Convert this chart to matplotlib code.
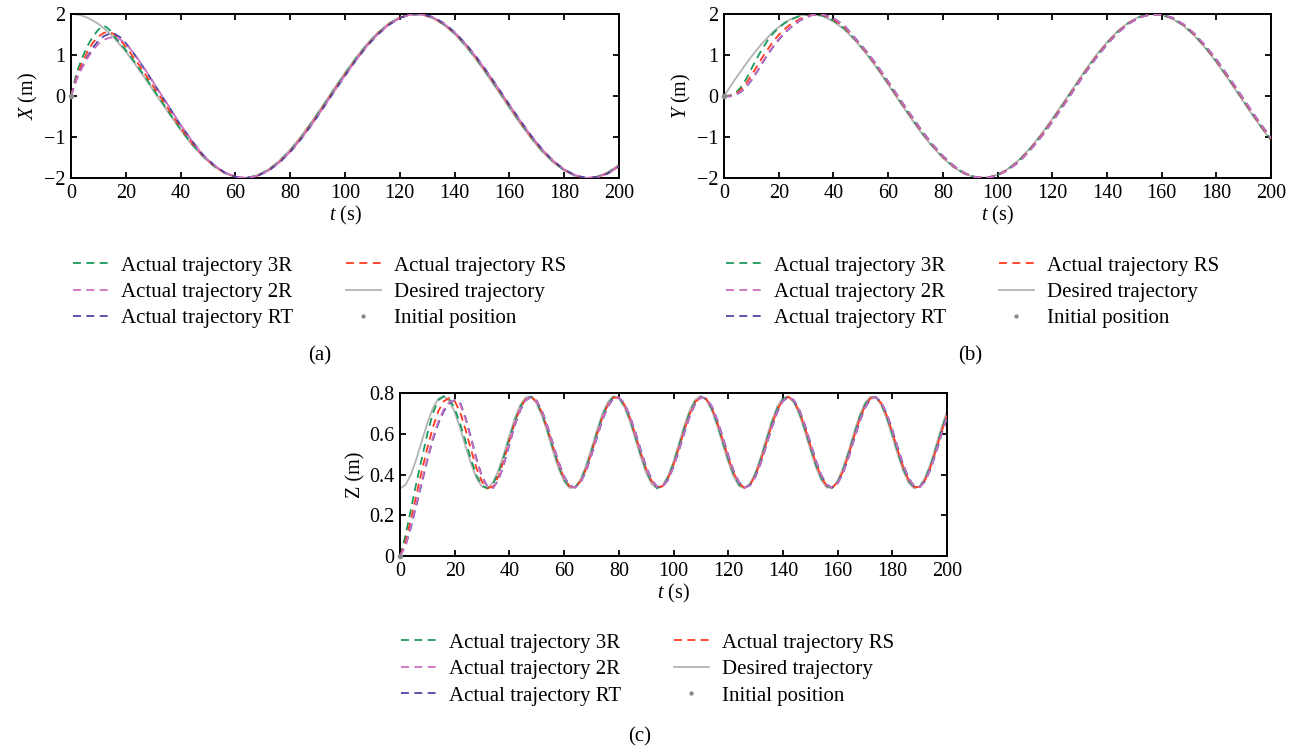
import matplotlib
matplotlib.use('Agg')
import matplotlib.pyplot as plt

plt.rcParams['font.family'] = 'Liberation Serif'
plt.rcParams['mathtext.fontset'] = 'custom'
plt.rcParams['mathtext.rm'] = 'Liberation Serif'
plt.rcParams['mathtext.it'] = 'Liberation Serif:italic'

# time grids (s)
t_xy = list(range(0, 25, 2)) + list(range(28, 201, 4))
t_z = list(range(0, 201, 2))

# X (m)
x_des = [2.00, 1.99, 1.96, 1.91, 1.84, 1.76, 1.65, 1.53, 1.39, 1.24, 1.08, 0.91, 0.72, 0.34, -0.06, -0.45, -0.83, -1.18,
         -1.47, -1.71, -1.88, -1.98, -2.00, -1.93, -1.79, -1.58, -1.31, -0.98, -0.61, -0.22, 0.18, 0.57, 0.94, 1.27,
         1.55, 1.77, 1.92, 1.99, 1.99, 1.90, 1.74, 1.51, 1.22, 0.88, 0.50, 0.11, -0.29, -0.68, -1.04, -1.36, -1.62,
         -1.82, -1.95, -2.00, -1.97, -1.86, -1.68]
x_3r = [0.00, 0.55, 0.92, 1.22, 1.45, 1.62, 1.72, 1.62, 1.44, 1.28, 1.12, 0.94, 0.76, 0.37, -0.03, -0.42, -0.81, -1.16,
        -1.45, -1.70, -1.87, -1.98, -2.00, -1.94, -1.81, -1.60, -1.33, -1.01, -0.64, -0.25, 0.15, 0.54, 0.91, 1.25,
        1.53, 1.76, 1.91, 1.99, 1.99, 1.91, 1.75, 1.53, 1.24, 0.90, 0.53, 0.14, -0.26, -0.65, -1.01, -1.34, -1.60,
        -1.81, -1.94, -2.00, -1.97, -1.87, -1.69]
x_rs = [0.00, 0.45, 0.80, 1.08, 1.30, 1.45, 1.54, 1.56, 1.50, 1.37, 1.20, 1.02, 0.84, 0.44, 0.04, -0.36, -0.77, -1.13,
        -1.44, -1.69, -1.87, -1.97, -2.00, -1.95, -1.82, -1.61, -1.35, -1.02, -0.66, -0.27, 0.13, 0.52, 0.89, 1.23,
        1.52, 1.75, 1.91, 1.99, 1.99, 1.92, 1.76, 1.54, 1.26, 0.92, 0.55, 0.16, -0.24, -0.63, -1.00, -1.32, -1.59,
        -1.80, -1.94, -2.00, -1.98, -1.88, -1.71]
x_rt = [0.00, 0.40, 0.70, 0.96, 1.18, 1.35, 1.46, 1.52, 1.51, 1.43, 1.29, 1.12, 0.94, 0.54, 0.12, -0.29, -0.71, -1.08,
        -1.42, -1.67, -1.86, -1.97, -2.00, -1.95, -1.83, -1.63, -1.37, -1.05, -0.69, -0.30, 0.10, 0.49, 0.87, 1.21,
        1.50, 1.73, 1.90, 1.99, 2.00, 1.93, 1.78, 1.56, 1.28, 0.95, 0.58, 0.19, -0.21, -0.60, -0.97, -1.30, -1.58,
        -1.79, -1.93, -2.00, -1.98, -1.89, -1.72]
x_2r = [0.00, 0.40, 0.68, 0.92, 1.12, 1.27, 1.37, 1.42, 1.43, 1.38, 1.27, 1.12, 0.95, 0.55, 0.13, -0.28, -0.70, -1.08,
        -1.43, -1.68, -1.86, -1.97, -2.00, -1.95, -1.82, -1.62, -1.36, -1.04, -0.68, -0.29, 0.11, 0.50, 0.87, 1.22,
        1.51, 1.74, 1.90, 1.99, 1.99, 1.92, 1.77, 1.55, 1.27, 0.94, 0.57, 0.18, -0.22, -0.61, -0.98, -1.31, -1.58,
        -1.79, -1.93, -2.00, -1.98, -1.89, -1.72]

# Y (m)
y_des = [0.00, 0.20, 0.40, 0.59, 0.78, 0.96, 1.13, 1.29, 1.43, 1.57, 1.68, 1.78, 1.86, 1.97, 2.00, 1.95, 1.82, 1.62,
         1.35, 1.03, 0.67, 0.28, -0.12, -0.51, -0.89, -1.22, -1.51, -1.74, -1.90, -1.99, -1.99, -1.92, -1.77, -1.55,
         -1.26, -0.93, -0.56, -0.17, 0.23, 0.62, 0.99, 1.31, 1.59, 1.80, 1.94, 2.00, 1.98, 1.88, 1.71, 1.47, 1.17,
         0.82, 0.45, 0.05, -0.35, -0.73, -1.09]
y_3r = [0.00, 0.01, 0.06, 0.20, 0.40, 0.66, 0.92, 1.15, 1.36, 1.53, 1.66, 1.77, 1.85, 1.96, 2.00, 1.96, 1.84, 1.65,
        1.37, 1.06, 0.70, 0.31, -0.09, -0.48, -0.86, -1.20, -1.49, -1.73, -1.89, -1.98, -2.00, -1.93, -1.78, -1.56,
        -1.29, -0.96, -0.59, -0.20, 0.20, 0.59, 0.96, 1.29, 1.57, 1.78, 1.93, 2.00, 1.98, 1.89, 1.73, 1.49, 1.19,
        0.85, 0.47, 0.08, -0.32, -0.71, -1.06]
y_rs = [0.00, 0.00, 0.04, 0.14, 0.30, 0.50, 0.72, 0.94, 1.14, 1.33, 1.49, 1.62, 1.73, 1.89, 1.98, 1.98, 1.87, 1.68,
        1.39, 1.07, 0.72, 0.33, -0.07, -0.46, -0.84, -1.18, -1.48, -1.72, -1.89, -1.98, -2.00, -1.93, -1.79, -1.58,
        -1.30, -0.97, -0.61, -0.22, 0.18, 0.58, 0.95, 1.28, 1.56, 1.78, 1.92, 1.99, 1.99, 1.90, 1.74, 1.50, 1.21,
        0.87, 0.49, 0.10, -0.30, -0.69, -1.05]
y_rt = [0.00, -0.01, 0.02, 0.09, 0.21, 0.38, 0.58, 0.80, 1.01, 1.20, 1.37, 1.52, 1.65, 1.85, 1.97, 1.99, 1.90, 1.72,
        1.41, 1.10, 0.75, 0.36, -0.04, -0.43, -0.81, -1.16, -1.46, -1.70, -1.88, -1.98, -2.00, -1.94, -1.80, -1.60,
        -1.32, -1.00, -0.64, -0.25, 0.15, 0.55, 0.92, 1.25, 1.54, 1.76, 1.92, 1.99, 1.99, 1.91, 1.75, 1.52, 1.23,
        0.90, 0.52, 0.13, -0.27, -0.66, -1.02]
y_2r = [0.00, -0.01, 0.02, 0.10, 0.23, 0.40, 0.60, 0.82, 1.03, 1.22, 1.39, 1.54, 1.66, 1.86, 1.97, 1.99, 1.90, 1.71,
        1.40, 1.09, 0.74, 0.35, -0.05, -0.44, -0.82, -1.17, -1.47, -1.71, -1.88, -1.98, -2.00, -1.94, -1.80, -1.59,
        -1.32, -0.99, -0.63, -0.24, 0.16, 0.56, 0.93, 1.26, 1.55, 1.77, 1.92, 1.99, 1.99, 1.90, 1.75, 1.52, 1.23,
        0.89, 0.51, 0.12, -0.28, -0.67, -1.03]

# Z (m)
z_des = [0.331, 0.349, 0.400, 0.476, 0.565, 0.652, 0.725, 0.772, 0.785, 0.762,
         0.706, 0.628, 0.538, 0.452, 0.382, 0.340, 0.333, 0.361, 0.420, 0.501,
         0.591, 0.676, 0.742, 0.779, 0.782, 0.748, 0.685, 0.602, 0.512, 0.429,
         0.366, 0.334, 0.337, 0.375, 0.442, 0.527, 0.617, 0.698, 0.756, 0.784,
         0.775, 0.733, 0.663, 0.576, 0.486, 0.408, 0.354, 0.331, 0.345, 0.392,
         0.465, 0.553, 0.642, 0.718, 0.768, 0.785, 0.766, 0.715, 0.638, 0.549,
         0.462, 0.389, 0.343, 0.332, 0.355, 0.411, 0.490, 0.580, 0.666, 0.735,
         0.776, 0.783, 0.754, 0.695, 0.613, 0.523, 0.438, 0.373, 0.336, 0.335,
         0.369, 0.432, 0.516, 0.606, 0.689, 0.751, 0.782, 0.778, 0.740, 0.672,
         0.587, 0.497, 0.417, 0.359, 0.332, 0.341, 0.384, 0.455, 0.542, 0.632,
         0.709]
z_3r = [0.000, 0.100, 0.230, 0.360, 0.480, 0.600, 0.700, 0.765, 0.783, 0.771,
        0.723, 0.649, 0.561, 0.472, 0.394, 0.346, 0.331, 0.353, 0.408, 0.488,
        0.577, 0.663, 0.732, 0.773, 0.782, 0.753, 0.694, 0.614, 0.526, 0.441,
        0.375, 0.339, 0.337, 0.369, 0.432, 0.514, 0.604, 0.686, 0.747, 0.780,
        0.776, 0.739, 0.674, 0.589, 0.500, 0.420, 0.362, 0.334, 0.343, 0.385,
        0.454, 0.540, 0.629, 0.707, 0.761, 0.782, 0.769, 0.723, 0.650, 0.562,
        0.475, 0.400, 0.350, 0.334, 0.352, 0.403, 0.478, 0.567, 0.653, 0.725,
        0.770, 0.782, 0.758, 0.704, 0.625, 0.537, 0.451, 0.383, 0.342, 0.335,
        0.364, 0.423, 0.503, 0.593, 0.677, 0.742, 0.777, 0.779, 0.746, 0.682,
        0.600, 0.511, 0.429, 0.368, 0.336, 0.340, 0.378, 0.444, 0.529, 0.619,
        0.697]
z_rs = [0.000, 0.070, 0.180, 0.300, 0.420, 0.530, 0.630, 0.710, 0.760, 0.775,
        0.760, 0.706, 0.619, 0.520, 0.429, 0.364, 0.333, 0.341, 0.390, 0.471,
        0.566, 0.655, 0.726, 0.770, 0.781, 0.757, 0.701, 0.623, 0.535, 0.450,
        0.382, 0.342, 0.336, 0.366, 0.425, 0.506, 0.595, 0.678, 0.742, 0.777,
        0.777, 0.744, 0.681, 0.598, 0.509, 0.428, 0.368, 0.337, 0.342, 0.380,
        0.447, 0.531, 0.620, 0.699, 0.756, 0.781, 0.771, 0.728, 0.657, 0.571,
        0.484, 0.407, 0.355, 0.335, 0.349, 0.397, 0.470, 0.558, 0.645, 0.718,
        0.766, 0.781, 0.761, 0.710, 0.634, 0.546, 0.459, 0.389, 0.345, 0.335,
        0.361, 0.416, 0.495, 0.584, 0.668, 0.736, 0.774, 0.779, 0.750, 0.689,
        0.608, 0.520, 0.437, 0.373, 0.339, 0.339, 0.373, 0.437, 0.520, 0.610,
        0.690]
z_rt = [0.000, 0.050, 0.140, 0.250, 0.360, 0.470, 0.570, 0.650, 0.710, 0.750,
        0.765, 0.753, 0.677, 0.579, 0.476, 0.391, 0.340, 0.334, 0.373, 0.450,
        0.546, 0.642, 0.716, 0.764, 0.781, 0.762, 0.710, 0.635, 0.548, 0.462,
        0.391, 0.347, 0.336, 0.360, 0.415, 0.493, 0.581, 0.666, 0.733, 0.773,
        0.779, 0.750, 0.691, 0.611, 0.522, 0.439, 0.376, 0.340, 0.339, 0.373,
        0.436, 0.518, 0.606, 0.688, 0.748, 0.778, 0.774, 0.735, 0.669, 0.585,
        0.497, 0.418, 0.361, 0.336, 0.346, 0.389, 0.458, 0.544, 0.632, 0.707,
        0.760, 0.780, 0.766, 0.719, 0.646, 0.559, 0.472, 0.399, 0.351, 0.335,
        0.355, 0.407, 0.482, 0.570, 0.656, 0.726, 0.770, 0.780, 0.755, 0.699,
        0.621, 0.533, 0.449, 0.382, 0.343, 0.337, 0.367, 0.427, 0.507, 0.596,
        0.678]
z_2r = [0.000, 0.050, 0.150, 0.260, 0.370, 0.480, 0.580, 0.660, 0.720, 0.755,
        0.765, 0.745, 0.670, 0.570, 0.468, 0.385, 0.338, 0.333, 0.375, 0.455,
        0.552, 0.646, 0.719, 0.766, 0.781, 0.760, 0.707, 0.631, 0.544, 0.458,
        0.388, 0.345, 0.336, 0.362, 0.419, 0.497, 0.586, 0.670, 0.736, 0.774,
        0.778, 0.748, 0.688, 0.606, 0.518, 0.435, 0.373, 0.339, 0.340, 0.376,
        0.439, 0.522, 0.611, 0.691, 0.751, 0.779, 0.773, 0.733, 0.665, 0.580,
        0.492, 0.415, 0.359, 0.336, 0.347, 0.391, 0.462, 0.549, 0.636, 0.711,
        0.762, 0.781, 0.764, 0.716, 0.642, 0.555, 0.468, 0.396, 0.349, 0.335,
        0.357, 0.410, 0.487, 0.575, 0.660, 0.729, 0.771, 0.779, 0.753, 0.696,
        0.617, 0.529, 0.445, 0.379, 0.341, 0.338, 0.369, 0.430, 0.512, 0.601,
        0.682]

# initial position (t, value) for each coordinate
init_t = [0]
init_x = [0.0]
init_y = [0.0]
init_z = [0.0]

labels = ['Actual trajectory 3R', 'Actual trajectory 2R', 'Actual trajectory RT',
          'Actual trajectory RS', 'Desired trajectory', 'Initial position']
c_3r = '#1b9a5c'
c_2r = '#cc6fc0'
c_rt = '#4f45a6'
c_rs = '#ff3b1e'
c_des = '#b3b3b3'
c_init = '#8a8a8a'

W, H = 1299, 748
fig = plt.figure(figsize=(W / 100, H / 100), dpi=100)


def panel(rect, t, des, a3r, a2r, art, ars, init, ylabel, ylim, yticks, yticklabels, leg_xy, cap, cap_xy):
    ax = fig.add_axes(rect)
    dash = (4.4, 3.0)
    h_des = ax.plot(t, des, color=c_des, lw=1.3, zorder=1)[0]
    h3 = ax.plot(t, a3r, color=c_3r, lw=1.3, dashes=dash, zorder=2)[0]
    hrs = ax.plot(t, ars, color=c_rs, lw=1.3, dashes=dash, zorder=3)[0]
    hrt = ax.plot(t, art, color=c_rt, lw=1.3, dashes=dash, zorder=4)[0]
    h2 = ax.plot(t, a2r, color=c_2r, lw=1.3, dashes=dash, zorder=5)[0]
    hi = ax.plot(init_t, init, ls='none', marker='o', ms=3, color=c_init, zorder=6, clip_on=False)[0]
    ax.set_xlim(0, 200)
    ax.set_ylim(*ylim)
    ax.set_xticks(range(0, 201, 20))
    ax.set_yticks(yticks)
    ax.set_yticklabels(yticklabels)
    ax.tick_params(direction='in', top=True, right=True, length=4, width=1.3,
                   labelsize=14.5, pad=4)
    for s in ax.spines.values():
        s.set_linewidth(1.4)
    ax.set_xlabel(r'$t$ (s)', fontsize=14.5, labelpad=1)
    ax.set_ylabel(ylabel, fontsize=14.5, labelpad=3)
    ax.legend([h3, h2, hrt, hrs, h_des, hi], labels, ncol=2, loc='upper left',
              bbox_to_anchor=leg_xy, bbox_transform=fig.transFigure, frameon=False,
              fontsize=15, handlelength=1.7, handletextpad=0.62, columnspacing=2.5,
              labelspacing=0.33, borderpad=0, borderaxespad=0, markerscale=0.7)
    fig.text(cap_xy[0] / W, 1 - cap_xy[1] / H, cap, ha='center', va='center', fontsize=15)
    return ax


def frac(l, r, top, bot):
    return [l / W, 1 - bot / H, (r - l) / W, (bot - top) / H]


xy_ticks = [-2, -1, 0, 1, 2]
xy_labels = ['\u22122', '\u22121', '0', '1', '2']
panel(frac(71, 619, 14, 178), t_xy, x_des, x_3r, x_2r, x_rt, x_rs, init_x, r'$X$ (m)', (-2, 2),
      xy_ticks, xy_labels, (73 / W, 1 - 256 / H), '(a)', (320, 356))
panel(frac(724, 1271, 14, 178), t_xy, y_des, y_3r, y_2r, y_rt, y_rs, init_y, r'$Y$ (m)', (-2, 2),
      xy_ticks, xy_labels, (726 / W, 1 - 256 / H), '(b)', (970, 356))
panel(frac(400, 947, 393, 556), t_z, z_des, z_3r, z_2r, z_rt, z_rs, init_z, 'Z (m)', (0, 0.8),
      [0, 0.2, 0.4, 0.6, 0.8], ['0', '0.2', '0.4', '0.6', '0.8'], (401 / W, 1 - 633 / H), '(c)', (640, 737))

fig.savefig('out.png', dpi=100)
